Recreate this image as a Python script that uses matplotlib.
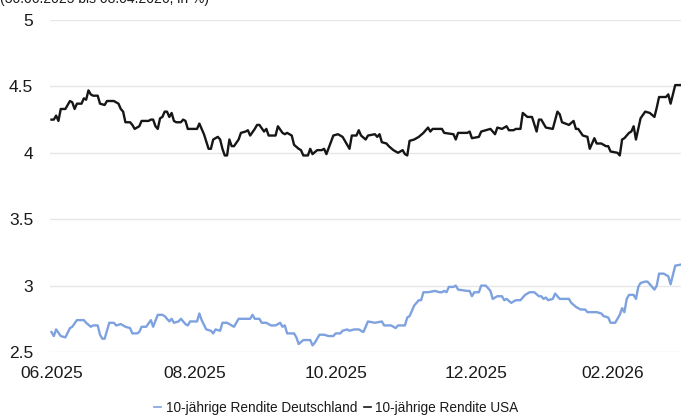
import pandas as pd
import matplotlib
matplotlib.use('Agg')
import matplotlib.pyplot as plt
import matplotlib.dates as mdates
from matplotlib.lines import Line2D

start = pd.Timestamp('2025-06-30')

tage_usa = [0, 1, 2, 3, 4, 6, 8, 9, 10, 11,
            13, 14, 15, 16, 17, 18, 20, 21, 23, 24,
            27, 29, 30, 31, 32, 34, 35, 36, 38, 39,
            42, 43, 44, 45, 46, 47, 48, 49, 50, 51,
            52, 53, 54, 56, 57, 58, 59, 63, 64, 65,
            66, 68, 69, 70, 72, 73, 74, 75, 76, 77,
            78, 79, 81, 82, 84, 85, 86, 88, 89, 90,
            92, 93, 94, 97, 98, 100, 101, 102, 104, 105,
            107, 108, 109, 111, 112, 113, 115, 117, 118, 119,
            122, 124, 126, 129, 130, 132, 133, 134, 136, 137,
            140, 141, 142, 143, 145, 146, 148, 150, 152, 153,
            154, 155, 157, 159, 161, 163, 164, 165, 169, 170,
            174, 175, 176, 180, 181, 182, 185, 186, 188, 190,
            192, 193, 195, 197, 198, 200, 201, 203, 204, 206,
            208, 210, 211, 212, 214, 217, 219, 220, 221, 224,
            226, 227, 228, 230, 232, 233, 235, 236, 238, 240,
            241, 242, 245, 246, 247, 248, 250, 251, 252, 253,
            255, 257, 259, 261, 262, 263, 266, 267, 268, 270,
            273]
rendite_usa = [4.25, 4.25, 4.28, 4.24, 4.33, 4.33, 4.39, 4.38, 4.33, 4.37,
               4.37, 4.41, 4.40, 4.47, 4.44, 4.43, 4.43, 4.37, 4.36, 4.39,
               4.39, 4.37, 4.33, 4.31, 4.23, 4.23, 4.21, 4.18, 4.20, 4.24,
               4.24, 4.25, 4.25, 4.20, 4.18, 4.26, 4.27, 4.31, 4.31, 4.27,
               4.30, 4.24, 4.23, 4.23, 4.25, 4.24, 4.18, 4.18, 4.22, 4.18,
               4.14, 4.03, 4.03, 4.10, 4.12, 4.10, 4.03, 3.98, 3.98, 4.10,
               4.05, 4.05, 4.10, 4.15, 4.16, 4.17, 4.13, 4.18, 4.21, 4.21,
               4.16, 4.18, 4.13, 4.13, 4.20, 4.15, 4.14, 4.15, 4.13, 4.06,
               4.03, 4.02, 3.98, 3.98, 4.03, 3.99, 4.02, 4.02, 4.03, 3.99,
               4.13, 4.14, 4.12, 4.03, 4.13, 4.13, 4.17, 4.13, 4.10, 4.13,
               4.14, 4.12, 4.14, 4.08, 4.07, 4.05, 4.02, 4.00, 4.02, 3.99,
               3.98, 4.09, 4.10, 4.12, 4.15, 4.19, 4.16, 4.18, 4.18, 4.15,
               4.14, 4.10, 4.15, 4.15, 4.16, 4.11, 4.12, 4.16, 4.17, 4.18,
               4.14, 4.19, 4.18, 4.20, 4.17, 4.17, 4.18, 4.18, 4.30, 4.27,
               4.27, 4.16, 4.25, 4.25, 4.19, 4.18, 4.31, 4.29, 4.23, 4.21,
               4.24, 4.18, 4.18, 4.13, 4.12, 4.03, 4.11, 4.07, 4.07, 4.05,
               4.05, 4.01, 4.00, 3.98, 4.10, 4.11, 4.15, 4.16, 4.20, 4.10,
               4.26, 4.31, 4.30, 4.27, 4.34, 4.42, 4.42, 4.44, 4.37, 4.51,
               4.51]

tage_de = [0, 1, 2, 4, 6, 8, 9, 11, 14, 15,
           17, 18, 20, 21, 22, 23, 25, 27, 28, 30,
           32, 34, 35, 37, 38, 39, 41, 43, 44, 46,
           48, 49, 51, 52, 53, 55, 56, 58, 59, 60,
           63, 64, 65, 67, 69, 70, 71, 73, 74, 76,
           78, 79, 81, 84, 86, 87, 88, 90, 91, 93,
           95, 97, 99, 100, 101, 102, 105, 106, 107, 109,
           112, 113, 114, 116, 118, 120, 122, 123, 125, 126,
           128, 129, 131, 133, 135, 137, 140, 143, 144, 147,
           149, 150, 153, 154, 155, 157, 159, 160, 161, 163,
           166, 168, 169, 170, 171, 172, 174, 175, 176, 180,
           181, 182, 183, 185, 186, 188, 190, 191, 193, 195,
           196, 197, 199, 201, 203, 205, 207, 209, 211, 212,
           213, 214, 215, 217, 218, 220, 221, 224, 225, 227,
           229, 231, 232, 235, 236, 238, 239, 241, 242, 244,
           246, 247, 248, 249, 250, 252, 253, 254, 255, 257,
           258, 261, 262, 263, 265, 267, 268, 270, 273]
rendite_de = [2.65, 2.62, 2.67, 2.62, 2.61, 2.68, 2.69, 2.74, 2.74, 2.72,
              2.69, 2.70, 2.70, 2.63, 2.60, 2.60, 2.72, 2.72, 2.70, 2.71,
              2.69, 2.68, 2.64, 2.64, 2.65, 2.69, 2.69, 2.74, 2.69, 2.78,
              2.78, 2.77, 2.73, 2.75, 2.72, 2.73, 2.75, 2.71, 2.70, 2.73,
              2.73, 2.79, 2.74, 2.67, 2.66, 2.64, 2.67, 2.66, 2.72, 2.72,
              2.70, 2.69, 2.75, 2.75, 2.75, 2.78, 2.75, 2.75, 2.72, 2.72,
              2.70, 2.70, 2.72, 2.69, 2.70, 2.64, 2.64, 2.61, 2.56, 2.59,
              2.59, 2.55, 2.57, 2.63, 2.63, 2.62, 2.62, 2.64, 2.64, 2.66,
              2.67, 2.66, 2.67, 2.67, 2.65, 2.73, 2.72, 2.73, 2.70, 2.70,
              2.68, 2.70, 2.70, 2.76, 2.77, 2.85, 2.89, 2.89, 2.95, 2.95,
              2.96, 2.95, 2.95, 2.96, 2.95, 2.99, 2.99, 3.00, 2.97, 2.96,
              2.96, 2.92, 2.95, 2.95, 3.00, 3.00, 2.96, 2.90, 2.92, 2.92,
              2.89, 2.90, 2.87, 2.89, 2.89, 2.93, 2.95, 2.95, 2.92, 2.92,
              2.90, 2.91, 2.89, 2.90, 2.94, 2.90, 2.90, 2.90, 2.87, 2.84,
              2.82, 2.82, 2.80, 2.80, 2.80, 2.79, 2.77, 2.76, 2.72, 2.72,
              2.78, 2.83, 2.80, 2.90, 2.93, 2.93, 2.90, 2.99, 3.02, 3.03,
              3.03, 2.97, 3.00, 3.09, 3.09, 3.07, 3.01, 3.15, 3.16]

tick_daten = ['2025-06-30', '2025-08-31', '2025-10-31', '2025-12-31', '2026-02-28']
tick_labels = ['06.2025', '08.2025', '10.2025', '12.2025', '02.2026']
y_ticks = [2.5, 3, 3.5, 4, 4.5, 5]
y_labels = ['2.5', '3', '3.5', '4', '4.5', '5']
serien = ['10-jährige Rendite Deutschland', '10-jährige Rendite USA']

farbe_de = '#7ea2df'
farbe_usa = '#161616'
schrift = ['Liberation Sans', 'DejaVu Sans']

datum_usa = start + pd.to_timedelta(tage_usa, unit='D')
datum_de = start + pd.to_timedelta(tage_de, unit='D')

fig = plt.figure(figsize=(6.81, 4.17), dpi=100)
ax = fig.add_axes([50 / 681, 1 - 352 / 417, 631 / 681, 332 / 417])

ax.plot(datum_de, rendite_de, color=farbe_de, lw=1.7)
ax.plot(datum_usa, rendite_usa, color=farbe_usa, lw=1.7)

x0 = mdates.date2num(start)
ax.set_xlim(x0 - 0.65, x0 + 272.5)
ax.set_ylim(2.5, 5)
ax.set_yticks(y_ticks)
ax.set_yticklabels(y_labels)
ax.set_xticks(pd.to_datetime(tick_daten))
ax.set_xticklabels(tick_labels)
ax.grid(axis='y', color='#e6e6e6', lw=1)
ax.set_axisbelow(True)
for s in ax.spines.values():
    s.set_visible(False)
ax.tick_params(axis='both', length=0, labelsize=12.5, labelcolor='#1a1a1a')
ax.tick_params(axis='y', pad=12)
ax.tick_params(axis='x', pad=10)
for lab in ax.get_xticklabels() + ax.get_yticklabels():
    lab.set_fontfamily(schrift)

# Titelzeile, oben abgeschnitten wie im Original
fig.text(0.0, 1 - 3.5 / 417, '(30.06.2025 bis 08.04.2026, in %)', fontsize=10,
         family=schrift, va='baseline', ha='left', color='#1a1a1a')

handles = [Line2D([], [], color=farbe_de, lw=1.2), Line2D([], [], color=farbe_usa, lw=1.2)]
fig.legend(handles, serien, loc='center', bbox_to_anchor=(0.494, 1 - 408 / 417), ncol=2,
           frameon=False, handlelength=0.5, handletextpad=0.35, columnspacing=0.5,
           prop={'family': schrift, 'size': 9.8}, labelcolor='#1a1a1a',
           borderpad=0, borderaxespad=0)

fig.savefig('out.png', dpi=100)
